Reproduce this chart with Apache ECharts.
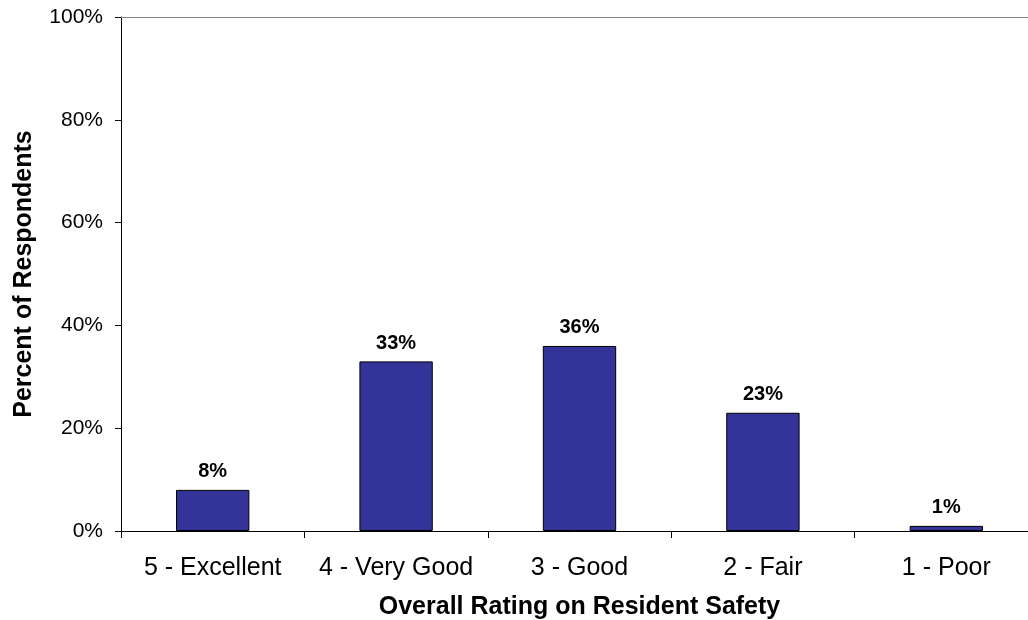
<!DOCTYPE html>
<html>
<head>
<meta charset="utf-8">
<script src="https://cdn.jsdelivr.net/npm/echarts@6/dist/echarts.min.js"></script>
<style>
  html, body { margin: 0; padding: 0; background: #fff; }
  #chart { width: 1028px; height: 620px; }
</style>
</head>
<body>
<div id="chart"></div>
<script>
// Survey results: overall rating on resident safety
const categories = ['5 - Excellent', '4 - Very Good', '3 - Good', '2 - Fair', '1 - Poor'];
const percents = [8, 33, 36, 23, 1];
const yTicks = [0, 20, 40, 60, 80, 100];

const FONT = '"Liberation Sans", Arial, sans-serif';

const chart = echarts.init(document.getElementById('chart'), null, { renderer: 'canvas' });

chart.setOption({
  animation: false,
  backgroundColor: '#ffffff',
  grid: {
    left: 121, top: 17, width: 917, height: 514,
    containLabel: false,
    outerBoundsMode: 'none'
  },
  xAxis: [
    {
      type: 'category',
      data: categories,
      position: 'bottom',
      name: 'Overall Rating on Resident Safety',
      nameLocation: 'middle',
      nameGap: 64,
      nameTextStyle: { fontFamily: FONT, fontSize: 25, fontWeight: 'bold', color: '#000' },
      axisLine: { show: true, lineStyle: { color: '#000', width: 1 } },
      axisTick: { show: true, length: 7, interval: 0, alignWithLabel: false, lineStyle: { color: '#000' } },
      axisLabel: { interval: 0, hideOverlap: false, fontFamily: FONT, fontSize: 25, color: '#000', margin: 25 },
      splitLine: { show: false }
    },
    {
      type: 'category',
      data: categories,
      position: 'top',
      axisLine: { show: true, lineStyle: { color: '#888', width: 1 } },
      axisTick: { show: false },
      axisLabel: { show: false },
      splitLine: { show: false }
    }
  ],
  yAxis: {
    type: 'value',
    min: yTicks[0],
    max: yTicks[yTicks.length - 1],
    interval: yTicks[1] - yTicks[0],
    name: 'Percent of Respondents',
    nameLocation: 'middle',
    nameGap: 84,
    nameRotate: 90,
    nameTextStyle: { fontFamily: FONT, fontSize: 25, fontWeight: 'bold', color: '#000' },
    axisLine: { show: true, lineStyle: { color: '#000', width: 1 } },
    axisTick: { show: true, length: 6, lineStyle: { color: '#000' } },
    axisLabel: {
      fontFamily: FONT, fontSize: 21, color: '#000', margin: 18,
      formatter: v => v + '%'
    },
    splitLine: { show: false }
  },
  series: [{
    type: 'bar',
    data: percents,
    barWidth: '40%',
    itemStyle: { color: '#333399', borderColor: '#000', borderWidth: 1 },
    label: {
      show: true,
      position: 'top',
      distance: 8,
      fontFamily: FONT, fontSize: 20, fontWeight: 'bold', color: '#000',
      formatter: p => p.value + '%'
    }
  }]
});
</script>
</body>
</html>
